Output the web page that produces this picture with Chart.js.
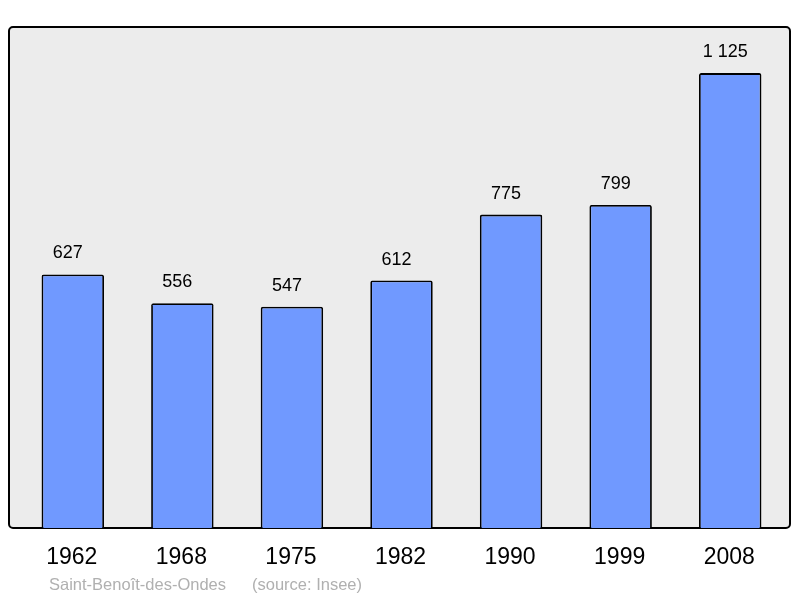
<!DOCTYPE html>
<html>
<head>
<meta charset="utf-8">
<script src="https://cdn.jsdelivr.net/npm/chart.js@4"></script>
<style>
  html, body { margin: 0; padding: 0; background: #fff; }
  #wrap { width: 800px; height: 598px; }
</style>
</head>
<body>
<div id="wrap"><canvas id="chart"></canvas></div>
<script>
var years = ['1962', '1968', '1975', '1982', '1990', '1999', '2008'];
var population = [627, 556, 547, 612, 775, 799, 1125];
var valueLabels = ['627', '556', '547', '612', '775', '799', '1 125'];

var decorations = {
    id: 'decorations',
    beforeDraw: function(chart) {
        var ctx = chart.ctx;
        var area = chart.chartArea;
        ctx.save();
        ctx.fillStyle = '#ececec';
        ctx.strokeStyle = '#000';
        ctx.lineWidth = 2;
        ctx.beginPath();
        ctx.roundRect(9, area.top, 781, area.bottom - area.top, 4);
        ctx.fill();
        ctx.stroke();
        ctx.restore();
    },
    afterDatasetsDraw: function(chart) {
        var ctx = chart.ctx;
        var meta = chart.getDatasetMeta(0);
        var area = chart.chartArea;
        ctx.save();
        ctx.fillStyle = '#000';
        ctx.textAlign = 'center';
        ctx.textBaseline = 'alphabetic';
        ctx.font = '18px "Liberation Sans", Arial, sans-serif';
        meta.data.forEach(function(bar, i) {
            ctx.fillText(valueLabels[i], bar.x - 5, bar.y - 16);
        });
        ctx.font = '23px "Liberation Sans", Arial, sans-serif';
        meta.data.forEach(function(bar, i) {
            ctx.fillText(years[i], bar.x - 1, area.bottom + 36);
        });
        ctx.textAlign = 'left';
        ctx.fillStyle = '#b0b0b0';
        ctx.font = '16.5px "Liberation Sans", Arial, sans-serif';
        ctx.fillText('Saint-Benoît-des-Ondes', 49, area.bottom + 62);
        ctx.fillText('(source: Insee)', 252, area.bottom + 62);
        ctx.restore();
    }
};

new Chart(document.getElementById('chart').getContext('2d'), {
    type: 'bar',
    data: {
        labels: years,
        datasets: [{
            data: population,
            backgroundColor: '#7099ff',
            borderColor: '#000',
            borderWidth: 1.8,
            borderRadius: 2,
            borderSkipped: 'bottom',
            barPercentage: 0.57,
            categoryPercentage: 1
        }]
    },
    options: {
        responsive: true,
        maintainAspectRatio: false,
        animation: false,
        layout: { padding: { left: 18, right: 15, top: 27, bottom: 70 } },
        plugins: { legend: { display: false }, tooltip: { enabled: false } },
        scales: {
            x: { display: false },
            y: { display: false, min: 0, max: 1239 }
        }
    },
    plugins: [decorations]
});
</script>
</body>
</html>
